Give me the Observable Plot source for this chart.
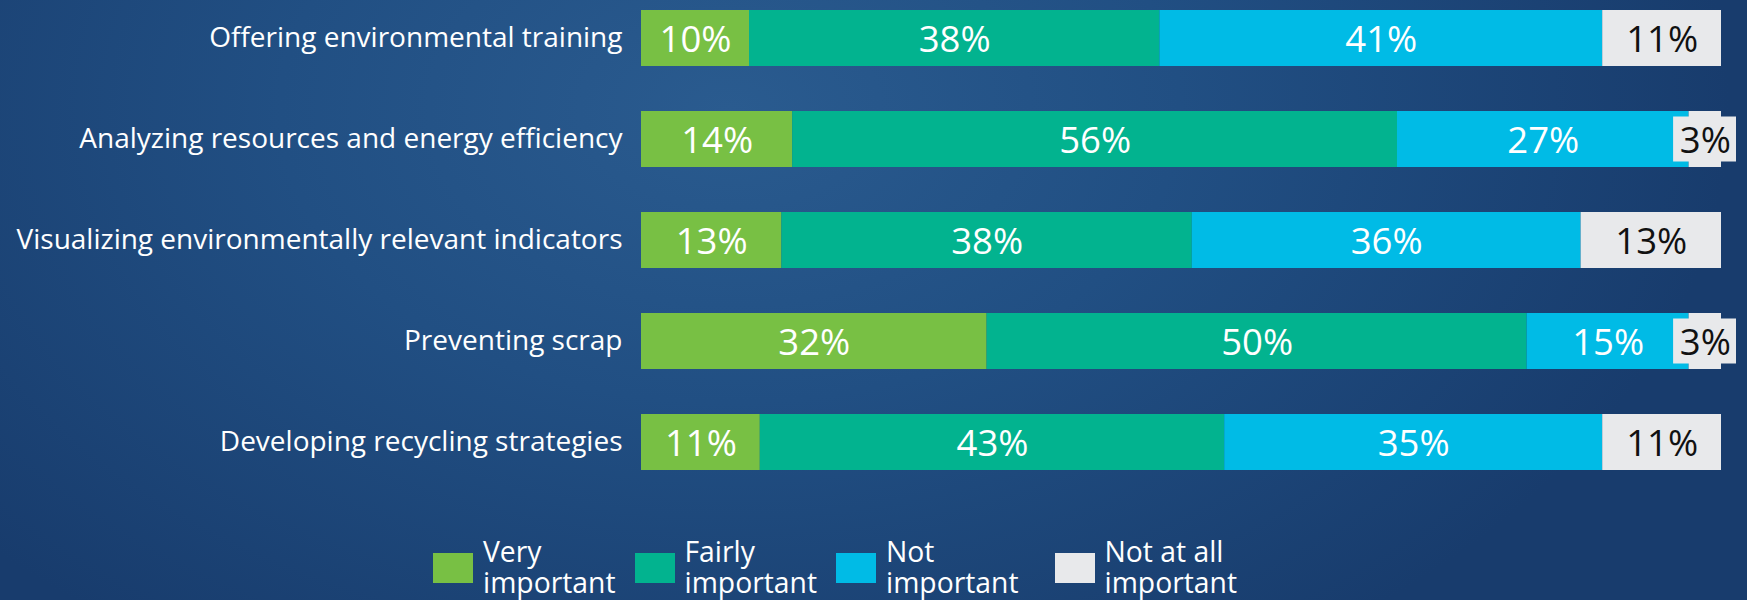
<!DOCTYPE html>
<html><head><meta charset="utf-8">
<script src="https://cdn.jsdelivr.net/npm/d3@7"></script>
<script src="https://cdn.jsdelivr.net/npm/@observablehq/plot@0.6"></script>
<style>
body{margin:0;}
#wrap{width:1747px;height:600px;overflow:hidden;font-family:"Open Sans",sans-serif;
background:radial-gradient(ellipse 1000px 650px at 730px 110px,#2a5b8f 0%,#214f83 45%,#183c6d 100%);}
#chart svg{display:block;}
#legend{display:flex;padding-left:433px;color:#fff;font-size:28.3px;}
.item{display:flex;align-items:flex-start;margin-right:19px;}
.item:last-child{margin-left:17px;}
.sw{width:40px;height:30px;margin-top:73px;margin-right:10px;flex:none;}
.lbl{margin-top:56px;}
.line{height:31px;line-height:31px;white-space:nowrap;}
</style></head><body><div id="wrap"><div id="chart"></div><div id="legend"></div></div>
<script>
const categories = [
  "Offering environmental training",
  "Analyzing resources and energy efficiency",
  "Visualizing environmentally relevant indicators",
  "Preventing scrap",
  "Developing recycling strategies"
];
const levels = ["Very important","Fairly important","Not important","Not at all important"];
const legendLines = [["Very","important"],["Fairly","important"],["Not","important"],["Not at all","important"]];
const colors = ["#78c044","#02b38f","#00bbe6","#e8e9eb"];
const veryImportant   = [10,14,13,32,11];
const fairlyImportant = [38,56,38,50,43];
const notImportant    = [41,27,36,15,35];
const notAtAll        = [11,3,13,3,11];
const series = [veryImportant, fairlyImportant, notImportant, notAtAll];

const rows = [];
categories.forEach((c, i) => {
  let cum = 0;
  series.forEach((s, k) => {
    const v = s[i];
    rows.push({category: c, level: levels[k], value: v, x1: cum, x2: cum + v, k});
    cum += v;
  });
});
const small = rows.filter(d => d.value < 5);

const chart = Plot.plot({
  width: 1747,
  height: 480,
  marginLeft: 641,
  marginRight: 26,
  marginTop: 8,
  marginBottom: 9,
  style: {background: "transparent", color: "#fff", fontFamily: "Open Sans", fontSize: "28px"},
  x: {domain: [0, 100], axis: null},
  y: {domain: categories, paddingInner: 0.45, paddingOuter: 0, label: null},
  color: {domain: levels, range: colors},
  marks: [
    Plot.axisY({tickSize: 0, tickPadding: 19, fontSize: 28, label: null}),
    Plot.barX(rows, {x1: "x1", x2: "x2", y: "category", fill: "level"}),
    Plot.barX(small, {x1: "x1", x2: "x2", y: "category", fill: "level", insetLeft: -15.5, insetRight: -15, insetTop: 5.5, insetBottom: 5.5}),
    Plot.text(rows, {x: d => (d.x1 + d.x2) / 2, y: "category", text: d => d.value + "%",
      fill: d => d.k === 3 ? "#111" : "#fff", fontSize: 36.5, dy: 2})
  ]
});
document.getElementById("chart").appendChild(chart);

const leg = document.getElementById("legend");
levels.forEach((l, k) => {
  const it = document.createElement("div");
  it.className = "item";
  const sw = document.createElement("div");
  sw.className = "sw";
  sw.style.background = colors[k];
  const lb = document.createElement("div");
  lb.className = "lbl";
  legendLines[k].forEach(t => {
    const ln = document.createElement("div");
    ln.className = "line";
    ln.textContent = t;
    lb.appendChild(ln);
  });
  it.appendChild(sw); it.appendChild(lb);
  leg.appendChild(it);
});
</script></body></html>
